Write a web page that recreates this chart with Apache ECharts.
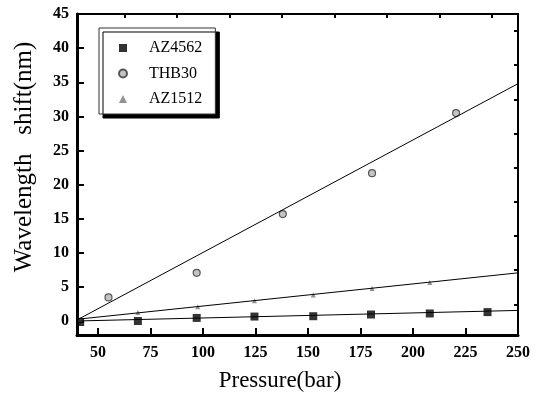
<!DOCTYPE html>
<html>
<head>
<meta charset="utf-8">
<script src="https://cdn.jsdelivr.net/npm/echarts@6.0.0/dist/echarts.min.js"></script>
<style>
  html, body { margin: 0; padding: 0; background: #fff; }
  #chart { width: 541px; height: 396px; }
</style>
</head>
<body>
<div id="chart"></div>
<script>
// measured points
const pressure4562 = [41.5, 69, 97, 124.5, 152.5, 180, 208, 235.5];
const shift4562 = [-0.1, 0.05, 0.5, 0.7, 0.75, 1.0, 1.15, 1.35];
const pressureTHB30 = [55, 97, 138, 180.5, 220.5];
const shiftTHB30 = [3.5, 7.1, 15.7, 21.7, 30.5];
const pressure1512 = [41.5, 69, 97.5, 124.5, 152.5, 180.5, 208];
const shift1512 = [0.3, 1.3, 2.15, 3.0, 3.85, 4.8, 5.7];

// fitted lines (end points)
const fitX = [40, 250];
const fit4562 = [0.05, 1.6];
const fitTHB30 = [0.2, 34.8];
const fit1512 = [0.3, 7.1];

const xTicks = [50, 75, 100, 125, 150, 175, 200, 225, 250];
const xMinor = [62.5, 87.5, 112.5, 137.5, 162.5, 187.5, 212.5, 237.5];
const yTicks = [0, 5, 10, 15, 20, 25, 30, 35, 40, 45];
const yMinor = [2.5, 7.5, 12.5, 17.5, 22.5, 27.5, 32.5, 37.5, 42.5];

const serif = 'Liberation Serif';
const zip = (xs, ys) => xs.map((x, i) => [x, ys[i]]);

const chart = echarts.init(document.getElementById('chart'));

// main axis carries line + labels; a twin axis only draws the short minor ticks
function axisOf(min, max, values, len, main, margin) {
  return {
    type: 'value', min: min, max: max,
    splitLine: { show: false },
    axisLine: { show: main, onZero: false, lineStyle: { color: '#000', width: 3 } },
    axisTick: { show: true, inside: true, length: len, lineStyle: { color: '#000', width: 2 }, customValues: values },
    axisLabel: main
      ? { customValues: values, margin: margin, fontFamily: serif, fontWeight: 'bold', fontSize: 16, color: '#000' }
      : { show: false }
  };
}

chart.setOption({
  animation: false,
  grid: {
    left: 77, right: 23, top: 14, bottom: 61,
    show: true, borderColor: '#000', borderWidth: 2, backgroundColor: 'transparent'
  },
  xAxis: [axisOf(40, 250, xTicks, 7, true, 10), axisOf(40, 250, xMinor, 4, false, 0)],
  yAxis: [axisOf(-2, 45, yTicks, 7, true, 8), axisOf(-2, 45, yMinor, 4, false, 0)],
  legend: {
    data: ['AZ4562', 'THB30', 'AZ1512'],
    orient: 'vertical',
    left: 99, top: 28,
    padding: [12, 13, 7, 19],
    itemWidth: 8, itemHeight: 8, itemGap: 9.5,
    backgroundColor: '#fff',
    borderColor: '#333', borderWidth: 1, borderRadius: 0,
    shadowColor: '#000', shadowBlur: 0, shadowOffsetX: 4, shadowOffsetY: 4,
    textStyle: {
      fontFamily: serif, fontSize: 16, color: '#000',
      lineHeight: 14, padding: [0, 0, 0, 17]
    }
  },
  graphic: [
    {
      type: 'text', x: 24, y: 157, rotation: Math.PI / 2,
      style: {
        text: 'Wavelength   shift(nm)', fill: '#000',
        font: '25px "Liberation Serif"', textAlign: 'center', textVerticalAlign: 'middle'
      }
    },
    {
      type: 'text', x: 280, y: 381,
      style: {
        text: 'Pressure(bar)', fill: '#000',
        font: '23px "Liberation Serif"', textAlign: 'center', textVerticalAlign: 'middle'
      }
    }
  ],
  series: [
    {
      name: 'fit4562', type: 'line', data: zip(fitX, fit4562),
      symbol: 'none', lineStyle: { color: '#000', width: 1 }
    },
    {
      name: 'fitTHB30', type: 'line', data: zip(fitX, fitTHB30),
      symbol: 'none', lineStyle: { color: '#000', width: 1 }
    },
    {
      name: 'fit1512', type: 'line', data: zip(fitX, fit1512),
      symbol: 'none', lineStyle: { color: '#000', width: 1 }
    },
    {
      name: 'AZ4562', type: 'scatter', data: zip(pressure4562, shift4562),
      symbol: 'rect', symbolSize: 8, itemStyle: { color: '#000' }
    },
    {
      name: 'THB30', type: 'scatter', data: zip(pressureTHB30, shiftTHB30),
      symbol: 'circle', symbolSize: 7,
      itemStyle: { color: '#b5b5b5', borderColor: '#333', borderWidth: 1.2 }
    },
    {
      name: 'AZ1512', type: 'scatter', data: zip(pressure1512, shift1512),
      symbol: 'triangle', symbolSize: 5, itemStyle: { color: '#777' }
    }
  ]
});
</script>
</body>
</html>
